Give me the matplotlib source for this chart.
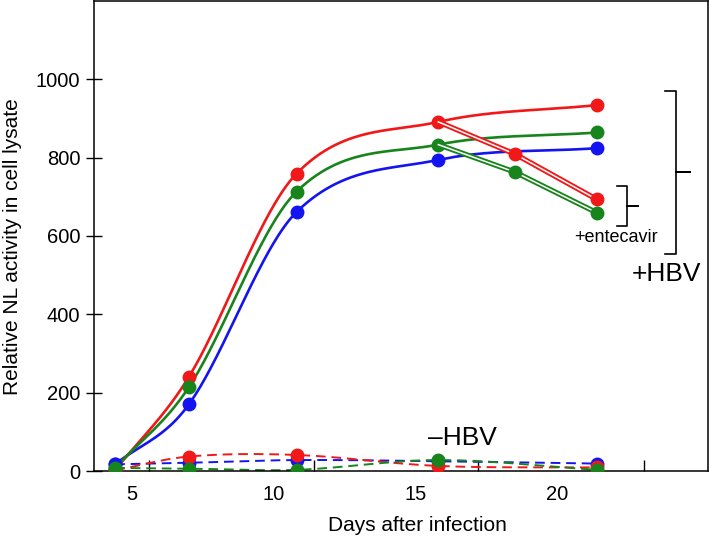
import numpy as np
import matplotlib
matplotlib.use("Agg")
import matplotlib.pyplot as plt

# data
days = [4.4, 7.0, 10.8, 15.8, 21.4]
hbv_red = [2, 240, 759, 891, 934]
hbv_green = [8, 214, 713, 833, 864]
hbv_blue = [17, 170, 661, 794, 824]

ent_days = [15.8, 18.5, 21.4]
ent_red = [891, 809, 693]
ent_green = [833, 763, 659]

neg_red = [2, 37, 41, 13, 9]
neg_green = [8, 6, 3, 28, 3]
neg_blue = [17, 21, 28, 25, 19]

RED = "#f01818"
GREEN = "#18841c"
BLUE = "#1414f0"

plt.rcParams["font.family"] = ["Liberation Sans", "DejaVu Sans"]


def smooth(x, y, n=300):
    # cubic hermite through the points, slopes from the neighbours (catmull-rom style)
    x = np.asarray(x, float)
    y = np.asarray(y, float)
    h = np.diff(x)
    m = np.empty_like(y)
    m[1:-1] = (y[2:] - y[:-2]) / (x[2:] - x[:-2])
    m[0] = (y[1] - y[0]) / h[0]
    m[-1] = (y[-1] - y[-2]) / h[-1]
    xs = np.linspace(x[0], x[-1], n)
    i = np.clip(np.searchsorted(x, xs) - 1, 0, len(h) - 1)
    t = (xs - x[i]) / h[i]
    h00 = 2 * t**3 - 3 * t**2 + 1
    h10 = t**3 - 2 * t**2 + t
    h01 = -2 * t**3 + 3 * t**2
    h11 = t**3 - t**2
    ys = h00 * y[i] + h10 * h[i] * m[i] + h01 * y[i + 1] + h11 * h[i] * m[i + 1]
    return xs, ys


fig = plt.figure(figsize=(7.09, 5.38), dpi=100)
ax = fig.add_axes([0.132, 0.1245, 0.866, 0.874])

ms = 9
# -HBV, dashed
for vals, c in [(neg_blue, BLUE), (neg_red, RED), (neg_green, GREEN)]:
    xs, ys = smooth(days, vals)
    ax.plot(xs, ys, color=c, lw=1.4, ls=(0, (5, 3)), zorder=2)
    ax.plot(days, vals, "o", color=c, ms=ms, zorder=3)

# +HBV, solid
for vals, c in [(hbv_blue, BLUE), (hbv_red, RED), (hbv_green, GREEN)]:
    xs, ys = smooth(days, vals)
    ax.plot(xs, ys, color=c, lw=1.9, zorder=4)
    ax.plot(days, vals, "o", color=c, ms=ms, zorder=5)

# +entecavir, double line
for vals, c in [(ent_red, RED), (ent_green, GREEN)]:
    ax.plot(ent_days, vals, color=c, lw=3.8, zorder=6)
    ax.plot(ent_days, vals, color="white", lw=1.1, zorder=6)
    ax.plot(ent_days[1:], vals[1:], "o", color=c, ms=ms, zorder=7)

ax.set_xlim(3.64, 25.3)
ax.set_ylim(0, 1200)
ax.set_yticks([0, 200, 400, 600, 800, 1000])
ax.set_xticks([5, 10, 15, 20])
ax.set_xticks([5.6, 11.4, 17.2, 23.05], minor=True)
ax.tick_params(axis="x", which="major", length=0, pad=10, labelsize=14.5)
ax.tick_params(axis="x", which="minor", direction="in", length=8, width=1)
ax.tick_params(axis="y", direction="inout", length=11, width=1, pad=4, labelsize=14.5)
for s in ax.spines.values():
    s.set_linewidth(1.1)

ax.set_xlabel("Days after infection", fontsize=15)
ax.xaxis.set_label_coords(0.528, -0.096)
ax.set_ylabel("Relative NL activity in cell lysate", fontsize=15)
ax.yaxis.set_label_coords(-0.117, 0.478)

# annotations
ax.text(22.05, 597, "+entecavir", fontsize=13, ha="center", va="center")
ax.text(23.85, 503, "+HBV", fontsize=19, ha="center", va="center")
ax.text(16.66, 83, "\u2013HBV", fontsize=19, ha="center", va="center")

# brackets
ax.plot([23.8, 24.19, 24.19, 24.68, 24.19, 24.19, 23.8],
        [969, 969, 763, 763, 763, 554, 554], color="black", lw=1.2, clip_on=False)
ax.plot([22.1, 22.46, 22.46, 22.84, 22.46, 22.46, 22.1],
        [727, 727, 676, 676, 676, 625, 625], color="black", lw=1.2, clip_on=False)

fig.savefig("out.png", dpi=100)
